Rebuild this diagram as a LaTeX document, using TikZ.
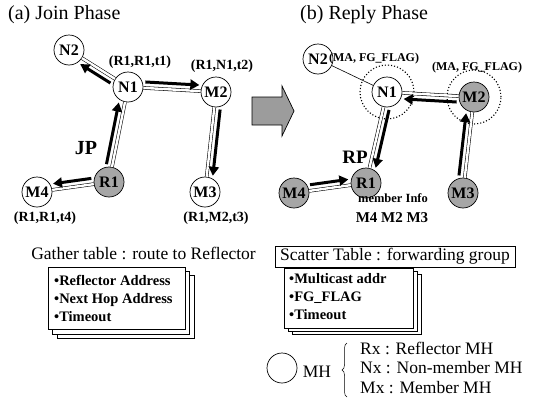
\documentclass[tikz,border=0pt]{standalone}
\usepackage{fontspec}
\setmainfont{Liberation Serif}
\usetikzlibrary{calc,arrows.meta,decorations.pathreplacing}

\definecolor{nodegray}{HTML}{A6A6A6}
\definecolor{arrowgray}{HTML}{9C9C9C}

\tikzset{
  host/.style={circle, draw, line width=0.7pt, minimum size=30pt, inner sep=0pt,
    fill=white, font=\fontsize{16}{16}\selectfont\bfseries},
  refl/.style={host, fill=nodegray},
  ring/.style={circle, draw, dotted, line width=1.1pt, minimum size=54pt, inner sep=0pt},
  link/.style={draw=black, line width=0.55pt, double=white, double distance=2.4pt},
  plain/.style={draw=black, line width=0.6pt},
  flow/.style={line width=3pt, -{Triangle[length=9pt,width=10pt]}},
  tag/.style={font=\fontsize{14}{14}\selectfont\bfseries, inner sep=0pt},
  smalltag/.style={font=\fontsize{12}{12}\selectfont\bfseries, inner sep=0pt},
  bigtag/.style={font=\fontsize{20}{20}\selectfont\bfseries, inner sep=0pt},
  title/.style={font=\fontsize{20}{20}\selectfont, inner sep=0pt, anchor=west},
  body/.style={font=\fontsize{17.5}{17.5}\selectfont, inner sep=0pt},
  entry/.style={font=\fontsize{14.5}{18}\selectfont\bfseries, inner sep=0pt, anchor=west,
    align=left},
  sheet/.style={draw=black, line width=0.6pt, fill=white},
}

% thick flow arrow running beside the link from #1 to #2, shifted sideways by #3
\newcommand\flowarrow[3]{%
  \draw[flow] ($($(#1)!17pt!(#2)$)!#3!90:(#2)$) -- ($($(#2)!17pt!(#1)$)!#3!-90:(#1)$);}

\begin{document}
\begin{tikzpicture}[x=1pt,y=-1pt]
\useasboundingbox (0,0) rectangle (538,399);

% ---------------- (a) Join Phase ----------------
\node[title] (ttlA) at (8,15) {(a) Join Phase};

\node[host] (aN2) at (69,50) {N2};
\node[host] (aN1) at (128,87) {N1};
\node[host] (aM2) at (216,92) {M2};
\node[refl] (aR1) at (109,182) {R1};
\node[host] (aM4) at (37,192) {M4};
\node[host] (aM3) at (205,192) {M3};

\draw[link] (aN1) -- (aN2);
\draw[link] (aN1) -- (aM2);
\draw[link] (aR1) -- (aN1);
\draw[link] (aR1) -- (aM4);
\draw[link] (aM2) -- (aM3);

\flowarrow{aN1}{aN2}{6pt}
\flowarrow{aN1}{aM2}{6pt}
\flowarrow{aR1}{aN1}{6pt}
\flowarrow{aR1}{aM4}{-6pt}
\flowarrow{aM2}{aM3}{6pt}

\node[tag] (lt1) at (140,62) {(R1,R1,t1)};
\node[tag] (lt2) at (222,66) {(R1,N1,t2)};
\node[tag] (lt3) at (216,218) {(R1,M2,t3)};
\node[tag] (lt4) at (45,218) {(R1,R1,t4)};
\node[bigtag] (jp) at (86,148) {JP};

% ---------------- block arrow between the phases ----------------
\draw[fill=arrowgray, line width=0.7pt]
  (252,97) -- (282,97) -- (282,86) -- (294,111) -- (282,136) -- (282,125) -- (252,125) -- cycle;

% ---------------- (b) Reply Phase ----------------
\node[title] (ttlB) at (300,15) {(b) Reply Phase};

\node[ring] (bN1ring) at (387,92) {};
\node[ring] (bM2ring) at (474,97) {};

\node[host] (bN2) at (318,59) {N2};
\node[host] (bN1) at (387,92) {N1};
\node[refl] (bM2) at (474,97) {M2};
\node[refl] (bR1) at (366,183) {R1};
\node[refl] (bM4) at (294,193) {M4};
\node[refl] (bM3) at (463,193) {M3};

\draw[plain] (bN2) -- (bN1);
\draw[link] (bM2) -- (bN1);
\draw[link] (bN1) -- (bR1);
\draw[link] (bM3) -- (bM2);
\draw[link] (bM4) -- (bR1);

\flowarrow{bM2}{bN1}{6pt}
\flowarrow{bN1}{bR1}{6pt}
\flowarrow{bM3}{bM2}{6pt}
\flowarrow{bM4}{bR1}{6pt}

\node[smalltag] (fg1) at (374,59) {(MA, FG\_FLAG)};
\node[smalltag] (fg2) at (477,68) {(MA, FG\_FLAG)};
\node[bigtag, font=\fontsize{19}{19}\selectfont\bfseries] (rp) at (355,157) {RP};
\node[smalltag, font=\fontsize{12.5}{12.5}\selectfont\bfseries] (minfo) at (393,198) {member Info};
\node[tag, font=\fontsize{15}{15}\selectfont\bfseries] (mlist) at (392,218) {M4 M2 M3};

% ---------------- gather table ----------------
\node[body] (gather) at (143.5,253) {Gather table : route to Reflector};
\draw[sheet] (57,275) rectangle (194,338);
\draw[sheet] (52.5,271) rectangle (189.5,334);
\draw[sheet] (48,267) rectangle (185,329);
\node[entry] (gtext) at (54,298) {•Reflector Address\\•Next Hop Address\\•Timeout};

% ---------------- scatter table ----------------
\node[body, draw, line width=0.6pt, minimum width=240pt, minimum height=21pt] (scatter)
  at (395,256.5) {Scatter Table : forwarding group};
\draw[sheet] (292,274) rectangle (421,334);
\draw[sheet] (288,271) rectangle (417,331);
\draw[sheet] (284,268) rectangle (413,328);
\node[entry] (stext) at (289,297) {•Multicast addr\\•FG\_FLAG\\•Timeout};

% ---------------- legend ----------------
\node[circle, draw, line width=0.7pt, minimum size=30pt, inner sep=0pt] (legcirc) at (282,368) {};
\node[body] (mh) at (317,372) {MH};
\draw[line width=0.5pt, decorate, decoration={brace, amplitude=5pt}] (347,397) -- (347,343);
\node[body, anchor=west] (rx) at (360,348) {Rx : Reflector MH};
\node[body, anchor=west] (nx) at (360,368) {Nx : Non-member MH};
\node[body, anchor=west] (mx) at (360,388) {Mx : Member MH};
\end{tikzpicture}
\end{document}
